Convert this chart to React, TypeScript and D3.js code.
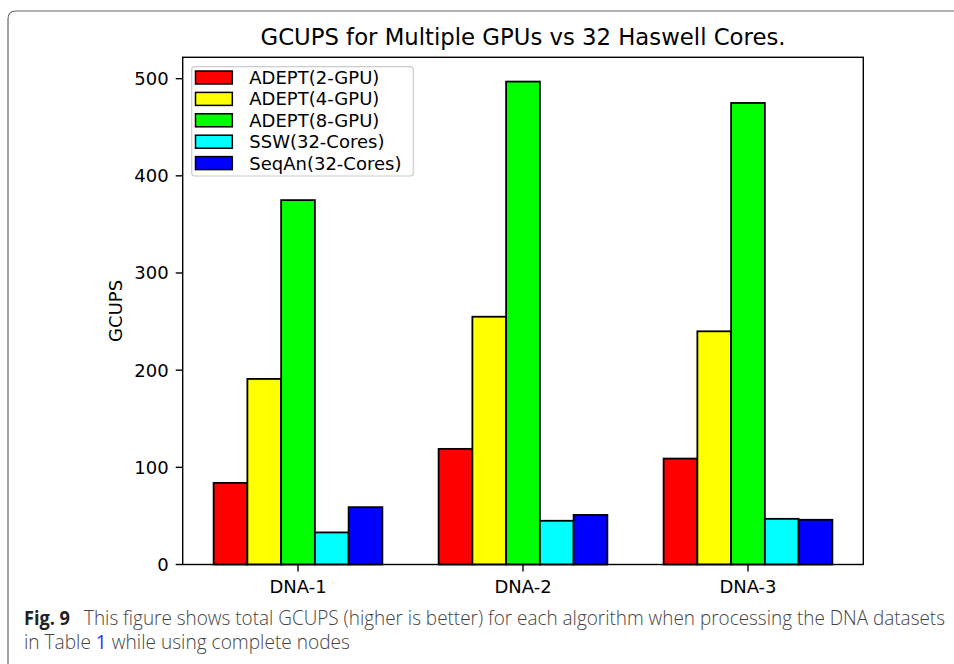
import React from "react";
import * as d3 from "d3";

const categories = ["DNA-1", "DNA-2", "DNA-3"];
const seriesNames = [
  "ADEPT(2-GPU)",
  "ADEPT(4-GPU)",
  "ADEPT(8-GPU)",
  "SSW(32-Cores)",
  "SeqAn(32-Cores)",
];
const adept2 = [84, 119, 109];
const adept4 = [191, 255, 240];
const adept8 = [375, 497, 475];
const ssw = [33, 45, 47];
const seqan = [59, 51, 46];
const seriesColors = ["#ff0000", "#ffff00", "#00ff00", "#00ffff", "#0000ff"];
const yTicks = [0, 100, 200, 300, 400, 500];
const title = "GCUPS for Multiple GPUs vs 32 Haswell Cores.";
const yLabel = "GCUPS";

const series = [adept2, adept4, adept8, ssw, seqan];

const W = 954;
const H = 664;
const plot = { left: 182.7, right: 863.3, top: 57.3, bottom: 564.5 };
const barW = 0.15;
const FONT = "'DejaVu Sans', sans-serif";

export default function App() {
  const x = d3
    .scaleLinear()
    .domain([-0.5125, categories.length - 1 + 0.5125])
    .range([plot.left, plot.right]);
  const y = d3.scaleLinear().domain([0, 522]).range([plot.bottom, plot.top]);

  const bars: React.ReactNode[] = [];
  series.forEach((vals, si) => {
    vals.forEach((v, ci) => {
      const x0 = x(ci + (si - 2.5) * barW);
      const x1 = x(ci + (si - 1.5) * barW);
      bars.push(
        <rect
          key={`${si}-${ci}`}
          x={x0}
          y={y(v)}
          width={x1 - x0}
          height={y(0) - y(v)}
          fill={seriesColors[si]}
          stroke="#000"
          strokeWidth={1.8}
        />
      );
    });
  });

  const legendX = 191.7;
  const legendY = 66.7;
  const rowH = 21.4;

  return (
    <svg
      width={W}
      height={H}
      style={{ position: "absolute", left: 0, top: 0, background: "#fff" }}
    >
      <rect x={0} y={0} width={W} height={H} fill="#fff" />
      {/* frame */}
      <path
        d={`M 8 ${H} L 8 19 Q 8 11 16 11 L ${W} 11`}
        fill="none"
        stroke="#666"
        strokeWidth={1.2}
      />
      {/* title */}
      <text
        x={(plot.left + plot.right) / 2}
        y={45}
        textAnchor="middle"
        fontFamily={FONT}
        fontSize={22.2}
        fill="#000"
        textLength={525}
        lengthAdjust="spacingAndGlyphs"
      >
        {title}
      </text>
      {bars}
      {/* axes box */}
      <rect
        x={plot.left}
        y={plot.top}
        width={plot.right - plot.left}
        height={plot.bottom - plot.top}
        fill="none"
        stroke="#000"
        strokeWidth={1.4}
      />
      {/* y ticks */}
      {yTicks.map((t) => (
        <g key={t}>
          <line
            x1={plot.left - 7}
            x2={plot.left}
            y1={y(t)}
            y2={y(t)}
            stroke="#000"
            strokeWidth={1.4}
          />
          <text
            x={plot.left - 14}
            y={y(t)}
            dy="0.36em"
            textAnchor="end"
            fontFamily={FONT}
            fontSize={18}
            fill="#000"
          >
            {t}
          </text>
        </g>
      ))}
      {/* x ticks */}
      {categories.map((c, i) => (
        <g key={c}>
          <line
            x1={x(i)}
            x2={x(i)}
            y1={plot.bottom}
            y2={plot.bottom + 7}
            stroke="#000"
            strokeWidth={1.4}
          />
          <text
            x={x(i)}
            y={592.5}
            textAnchor="middle"
            fontFamily={FONT}
            fontSize={18}
            fill="#000"
          >
            {c}
          </text>
        </g>
      ))}
      {/* y label */}
      <text
        transform={`translate(122, ${(plot.top + plot.bottom) / 2}) rotate(-90)`}
        textAnchor="middle"
        fontFamily={FONT}
        fontSize={18}
        fill="#000"
      >
        {yLabel}
      </text>
      {/* legend */}
      <rect
        x={legendX}
        y={legendY}
        width={221.6}
        height={109.3}
        rx={3}
        fill="#fff"
        fillOpacity={0.8}
        stroke="#cccccc"
        strokeWidth={1.2}
      />
      {seriesNames.map((n, i) => (
        <g key={n}>
          <rect
            x={195.5}
            y={71 + i * rowH}
            width={36.8}
            height={13}
            fill={seriesColors[i]}
            stroke="#000"
            strokeWidth={1.5}
          />
          <text
            x={249.3}
            y={84 + i * rowH}
            fontFamily={FONT}
            fontSize={18}
            fill="#000"
          >
            {n}
          </text>
        </g>
      ))}
      {/* caption */}
      <text
        x={24}
        y={625.3}
        fontFamily="'Open Sans', sans-serif"
        fontWeight={700}
        fontSize={20}
        fill="#222"
        textLength={46}
        lengthAdjust="spacingAndGlyphs"
      >
        Fig. 9
      </text>
      <text
        x={84}
        y={625.3}
        fontFamily="'Open Sans', sans-serif"
        fontWeight={300}
        fontSize={20}
        fill="#444"
        textLength={861}
        lengthAdjust="spacingAndGlyphs"
      >
        This figure shows total GCUPS (higher is better) for each algorithm when processing the DNA datasets
      </text>
      <text
        x={24}
        y={649.3}
        fontFamily="'Open Sans', sans-serif"
        fontWeight={300}
        fontSize={20}
        fill="#444"
        textLength={326}
        lengthAdjust="spacingAndGlyphs"
      >
        in Table{" "}
        <tspan fill="#2d2df0" fontWeight={400} style={{ fill: "#2d2df0" }}>
          1
        </tspan>{" "}
        while using complete nodes
      </text>
    </svg>
  );
}
